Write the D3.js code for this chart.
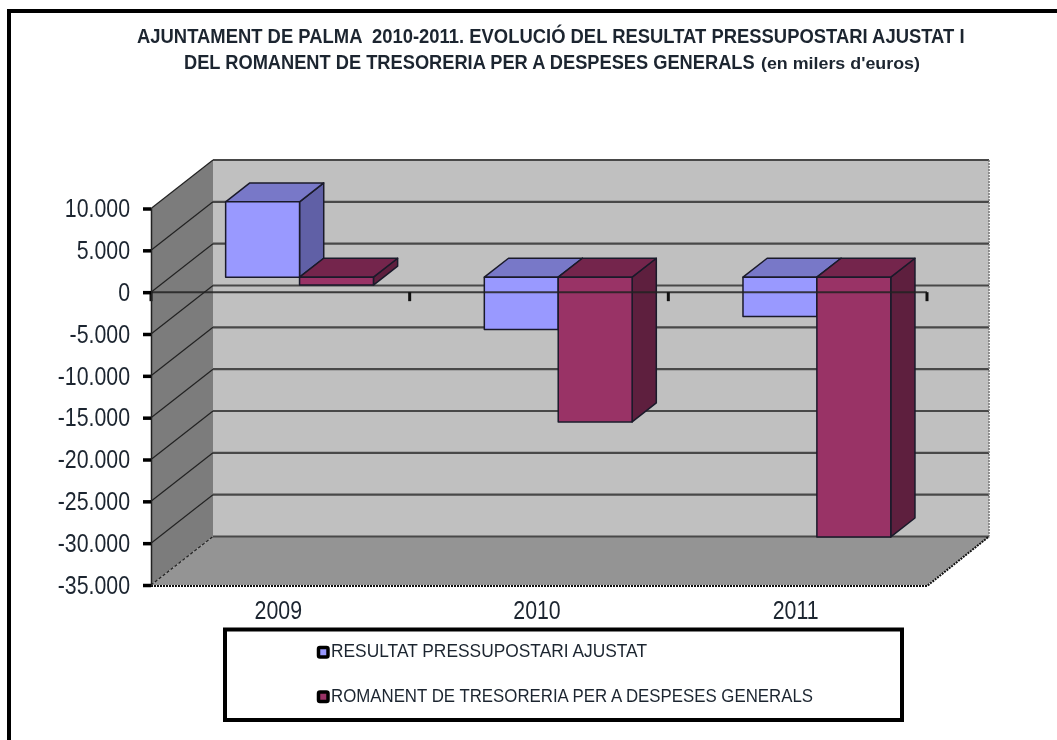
<!DOCTYPE html>
<html>
<head>
<meta charset="utf-8">
<script src="https://cdnjs.cloudflare.com/ajax/libs/d3/7.8.5/d3.min.js"></script>
<style>
	html, body { margin: 0; padding: 0; background: #fff; }
	svg { display: block; filter: blur(0.7px); }
	text { font-family: "Liberation Sans", Arial, sans-serif; fill: #1c2530; }
</style>
</head>
<body>
<div id="graphic"></div>
<script>
const years = ['2009', '2010', '2011'];
const seriesNames = ['RESULTAT PRESSUPOSTARI AJUSTAT', 'ROMANENT DE TRESORERIA PER A DESPESES GENERALS'];
const resultat = [9000, -6250, -4700];
const romanent = [-950, -17300, -31050];
const yTicks = [10000, 5000, 0, -5000, -10000, -15000, -20000, -25000, -30000, -35000];
const titleLines = [
	'AJUNTAMENT DE PALMA  2010-2011. EVOLUCIÓ DEL RESULTAT PRESSUPOSTARI AJUSTAT I',
	'DEL ROMANENT DE TRESORERIA PER A DESPESES GENERALS'
];
const titleUnits = "(en milers d'euros)";

const width = 1057, height = 740;
const plot = { left: 151, right: 927, top: 208.5, bottom: 585 };
const depth = { dx: 62, dy: -48.5 };      // front plane to back wall
const barDepth = { start: 0.31, end: 0.70 };  // share of the depth used by the bars

const colours = [
	{ front: '#9999ff', top: '#7878c8', side: '#6060a6' },
	{ front: '#993366', top: '#74254c', side: '#5e1f3e' }
];

const svg = d3.select('#graphic').append('svg')
	.attr('width', width)
	.attr('height', height);

const y = d3.scaleLinear().domain([10000, -35000]).range([plot.top, plot.bottom]);
const x = d3.scaleBand().domain(years).range([plot.left, plot.right]).paddingInner(0.4286).paddingOuter(0.2143);
const xSeries = d3.scaleBand().domain([0, 1]).range([0, x.bandwidth()]);

const line = d3.line();

// squeezes a text to a share of its natural width, the original font is narrow
function squeeze(selection, share) {
	selection.each(function () {
		d3.select(this)
			.attr('textLength', this.getComputedTextLength() * share)
			.attr('lengthAdjust', 'spacingAndGlyphs');
	});
}

// places a text at left, baseline and scales it horizontally to the wanted width
function fitText(selection, left, baseline, wanted) {
	selection.each(function () {
		const sx = wanted / this.getComputedTextLength();
		d3.select(this).attr('transform', `translate(${left},${baseline}) scale(${sx},1)`);
	});
}

// outer frame, cut off on the right by the crop
svg.append('path')
	.attr('d', line([[1057, 11], [9, 11], [9, 740]]))
	.attr('fill', 'none')
	.attr('stroke', '#000')
	.attr('stroke-width', 4);

// walls and floor
svg.append('path')
	.attr('d', line([[plot.left, plot.top], [plot.left + depth.dx, plot.top + depth.dy], [plot.left + depth.dx, plot.bottom + depth.dy], [plot.left, plot.bottom]]) + 'Z')
	.attr('fill', '#7c7c7c');
svg.append('rect')
	.attr('x', plot.left + depth.dx)
	.attr('y', plot.top + depth.dy)
	.attr('width', plot.right - plot.left)
	.attr('height', plot.bottom - plot.top)
	.attr('fill', '#c0c0c0');
svg.append('path')
	.attr('d', line([[plot.left, plot.bottom], [plot.left + depth.dx, plot.bottom + depth.dy], [plot.right + depth.dx, plot.bottom + depth.dy], [plot.right, plot.bottom]]) + 'Z')
	.attr('fill', '#949494');

// gridlines along the side wall and back wall
yTicks.forEach(function (t) {
	svg.append('line')
		.attr('x1', plot.left).attr('y1', y(t))
		.attr('x2', plot.left + depth.dx).attr('y2', y(t) + depth.dy)
		.attr('stroke', '#222')
		.attr('stroke-width', 1.2)
		.attr('stroke-dasharray', t === -35000 ? '3 2' : null);
	svg.append('line')
		.attr('x1', plot.left + depth.dx).attr('y1', y(t) + depth.dy)
		.attr('x2', plot.right + depth.dx).attr('y2', y(t) + depth.dy)
		.attr('stroke', '#484848')
		.attr('stroke-width', 2.2);
});

// dotted outline of the floor front and the right edges
svg.append('path')
	.attr('d', line([[plot.left, plot.bottom + 1], [plot.right, plot.bottom + 1], [plot.right + depth.dx, plot.bottom + depth.dy]]))
	.attr('fill', 'none')
	.attr('stroke', '#111')
	.attr('stroke-width', 2)
	.attr('stroke-dasharray', '2 1');
svg.append('line')
	.attr('x1', plot.right + depth.dx).attr('x2', plot.right + depth.dx)
	.attr('y1', plot.top + depth.dy).attr('y2', plot.bottom + depth.dy)
	.attr('stroke', '#777')
	.attr('stroke-width', 1.5)
	.attr('stroke-dasharray', '2 1');

// bars, drawn with their side and top faces behind the front face
[resultat, romanent].forEach(function (values, s) {
	const off = { x: depth.dx * barDepth.start, y: depth.dy * barDepth.start };
	const d = { x: depth.dx * (barDepth.end - barDepth.start), y: depth.dy * (barDepth.end - barDepth.start) };
	const c = colours[s];
	const g = svg.append('g')
		.attr('stroke', '#1a1a2a')
		.attr('stroke-width', 1.5)
		.attr('stroke-linejoin', 'round');

	values.forEach(function (v, i) {
		const x0 = x(years[i]) + xSeries(s) + off.x;
		const x1 = x0 + xSeries.bandwidth();
		const yTop = y(Math.max(v, 0)) + off.y;
		const yBot = y(Math.min(v, 0)) + off.y;
		g.append('path')
			.attr('d', line([[x1, yTop], [x1 + d.x, yTop + d.y], [x1 + d.x, yBot + d.y], [x1, yBot]]) + 'Z')
			.attr('fill', c.side);
		g.append('path')
			.attr('d', line([[x0, yTop], [x0 + d.x, yTop + d.y], [x1 + d.x, yTop + d.y], [x1, yTop]]) + 'Z')
			.attr('fill', c.top);
		g.append('rect')
			.attr('x', x0).attr('y', yTop)
			.attr('width', x1 - x0).attr('height', yBot - yTop)
			.attr('fill', c.front);
	});
});

// zero line on the front plane with the category ticks, it runs over the bars
svg.append('line')
	.attr('x1', plot.left).attr('x2', plot.right)
	.attr('y1', y(0)).attr('y2', y(0))
	.attr('stroke', '#222')
	.attr('stroke-width', 2)
	.attr('stroke-opacity', 0.85);
d3.range(4).forEach(function (i) {
	const tx = plot.left + i * x.step();
	svg.append('line')
		.attr('x1', tx).attr('x2', tx)
		.attr('y1', y(0)).attr('y2', y(0) + 9)
		.attr('stroke', '#111')
		.attr('stroke-width', 3);
});

// y axis
const axisLeft = svg.append('g')
	.attr('transform', `translate(${plot.left},0)`)
	.call(d3.axisLeft(y).tickValues(yTicks).tickSize(8).tickPadding(13)
		.tickFormat(d => d3.format(',')(d).replace(/,/g, '.').replace('−', '-')));
axisLeft.select('.domain').attr('stroke', '#222').attr('stroke-width', 1.5);
axisLeft.selectAll('.tick line').attr('stroke', '#000').attr('stroke-width', 3.5);
axisLeft.selectAll('text')
	.attr('font-size', 26)
	.attr('font-family', '"Liberation Sans"')
	.call(squeeze, 0.82);

// x labels
svg.append('g').selectAll('text')
	.data(years)
	.enter()
	.append('text')
	.attr('x', d => x(d) + x.bandwidth() / 2 - 2)
	.attr('y', 619)
	.attr('text-anchor', 'middle')
	.attr('font-size', 26)
	.text(d => d)
	.call(squeeze, 0.82);

// title
const title = svg.append('g').attr('font-size', 20);
title.append('text')
	.attr('xml:space', 'preserve')
	.style('font-weight', 'bold')
	.text(titleLines[0])
	.call(fitText, 137, 43, 828);
title.append('text')
	.style('font-weight', 'bold')
	.text(titleLines[1])
	.call(fitText, 184, 69, 571);
title.append('text')
	.attr('font-size', 17)
	.style('font-weight', 'bold')
	.text(titleUnits)
	.call(fitText, 761, 69, 159);

// legend
svg.append('rect')
	.attr('x', 225).attr('y', 629.5)
	.attr('width', 677).attr('height', 90.5)
	.attr('fill', '#fff')
	.attr('stroke', '#000')
	.attr('stroke-width', 4);
const legendItem = svg.append('g').selectAll('g')
	.data(seriesNames)
	.enter()
	.append('g')
	.attr('transform', (d, i) => `translate(317,${646 + i * 44.5})`);
legendItem.append('rect')
	.attr('x', 1.5).attr('y', 1.5)
	.attr('width', 9.5).attr('height', 9.5)
	.attr('rx', 1.5)
	.attr('fill', (d, i) => colours[i].front)
	.attr('stroke', '#000')
	.attr('stroke-width', 3.5);
legendItem.append('text')
	.attr('x', 14).attr('y', 11)
	.attr('font-size', 17.5)
	.attr('textLength', (d, i) => [316, 482][i])
	.attr('lengthAdjust', 'spacingAndGlyphs')
	.text(d => d);
</script>
</body>
</html>
